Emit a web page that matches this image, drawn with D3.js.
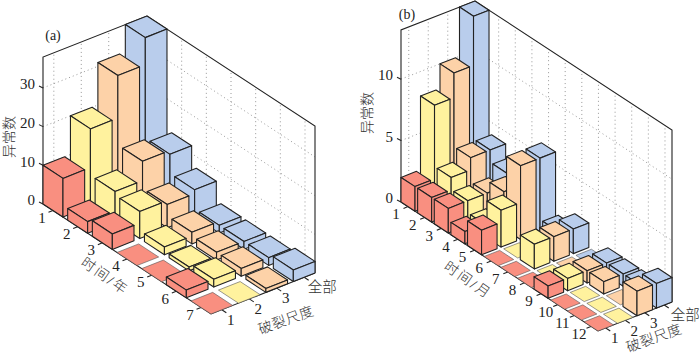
<!DOCTYPE html>
<html>
<head>
<meta charset="utf-8">
<script src="https://cdn.jsdelivr.net/npm/d3@7"></script>
<style>
  html, body { margin: 0; padding: 0; background: #fff; }
  svg { display: block; }
  text { font-family: "Liberation Serif", "Noto Sans CJK SC", serif; fill: #222; }
  .cjk { font-weight: 300; fill: #333; }
</style>
</head>
<body>
<div id="chart"></div>
<script>
// categories
const scaleNames = ["1", "2", "3", "全部"];
const yearsA = ["1", "2", "3", "4", "5", "6", "7"];
const monthsB = ["1", "2", "3", "4", "5", "6", "7", "8", "9", "10", "11", "12"];

// panel (a): anomaly counts per year, one array per rupture scale
const a1 = [10, 3, 4, 0, 0, 2, 0];
const a2 = [20, 8, 7, 2, 1, 2, 0];
const a3 = [31, 13, 6, 3, 2, 2, 1];
const aAll = [38, 12, 7, 2, 2, 2, 3];

// panel (b): anomaly counts per month
const b1 = [2, 2, 2, 1, 2, 0, 0, 0, 1, 0, 0, 0];
const b2 = [8, 3, 2, 1, 3, 0, 2, 0, 1, 0, 0, 0];
const b3 = [10, 4, 2, 3, 6, 0, 2, 0, 1, 1, 0, 2];
const bAll = [14, 4, 3, 2, 6, 1, 2, 0, 1, 1, 1, 2];

const colors = ["#f98f80", "#fff29e", "#fdd2a8", "#b9cdec"];

const svg = d3.select("#chart").append("svg").attr("width", 700).attr("height", 358);
const pathLine = d3.line();

// one oblique 3d panel
function drawPanel(p) {
  const g = svg.append("g");
  const uScale = d3.scaleBand().domain(p.times).range([0, 1]).paddingInner(p.padT);
  const vScale = d3.scaleBand().domain(scaleNames).range([0, 1]).paddingInner(p.padS);
  const zScale = d3.scaleLinear().domain([0, p.zMax]).range([0, p.height]);

  const project = (u, v, z) => [
    p.ox + u * p.tx + v * p.sx,
    p.oy + u * p.ty + v * p.sy - zScale(z)
  ];
  const uMid = (t) => uScale(t) + uScale.bandwidth() / 2;
  const vMid = (s) => vScale(s) + vScale.bandwidth() / 2;

  // walls
  const grid = g.append("g").attr("fill", "none").attr("stroke", "#8c8c8c")
    .attr("stroke-width", 0.9).attr("stroke-dasharray", "1 3");
  p.zTicks.forEach((z) => {
    if (z === 0) return;
    grid.append("path").attr("d", pathLine([project(0, 0, z), project(0, 1, z), project(1, 1, z)]));
  });
  scaleNames.forEach((s) => {
    grid.append("path").attr("d", pathLine([project(0, vMid(s), 0), project(0, vMid(s), p.zMax)]));
  });
  p.times.forEach((t) => {
    grid.append("path").attr("d", pathLine([project(uMid(t), 1, 0), project(uMid(t), 1, p.zMax)]));
  });

  const frame = g.append("g").attr("fill", "none").attr("stroke", "#222").attr("stroke-width", 1.1);
  frame.append("path").attr("d", pathLine([
    project(0, 0, 0), project(0, 0, p.zMax), project(0, 1, p.zMax), project(1, 1, p.zMax), project(1, 1, 0)
  ]));
  frame.append("path").attr("d", pathLine([project(0, 0, 0), project(1, 0, 0), project(1, 1, 0)]));

  // ticks and tick labels
  p.zTicks.forEach((z) => {
    const [x, y] = project(0, 0, z);
    frame.append("path").attr("d", pathLine([[x, y], [x - 4, y - 2]]));
    g.append("text").attr("x", x - 8).attr("y", y - 4).attr("dy", "0.35em")
      .attr("text-anchor", "end").attr("font-size", 15).text(z);
  });
  p.times.forEach((t) => {
    const [x, y] = project(uMid(t), 0, 0);
    frame.append("path").attr("d", pathLine([[x, y], [x - 4.5, y + 1.8]]));
    g.append("text").attr("x", x - p.timeDx).attr("y", y + 7).attr("dy", "0.35em")
      .attr("text-anchor", "middle").attr("font-size", 15).text(t);
  });
  scaleNames.forEach((s, i) => {
    const [x, y] = project(1, vMid(s), 0);
    frame.append("path").attr("d", pathLine([[x, y], [x + 4.5, y + 3]]));
    g.append("text").attr("x", x + (i === 3 ? p.allDx : 9)).attr("y", y + 10).attr("dy", "0.35em")
      .attr("class", i === 3 ? "cjk" : null)
      .attr("text-anchor", "middle").attr("font-size", i === 3 ? 14.5 : 15).text(s);
  });

  // bars, back to front
  const w = uScale.bandwidth();
  const d = vScale.bandwidth();
  p.times.forEach((t, i) => {
    for (let j = scaleNames.length - 1; j >= 0; j--) {
      const u0 = uScale(t), v0 = vScale(scaleNames[j]);
      const val = p.values[j][i];
      const bar = g.append("g").attr("fill", colors[j]);
      if (val === 0) {
        bar.append("path").attr("stroke", "#555").attr("stroke-width", 0.6).attr("d", pathLine([
          project(u0, v0, 0), project(u0, v0 + d, 0), project(u0 + w, v0 + d, 0), project(u0 + w, v0, 0)
        ]) + "Z");
        continue;
      }
      bar.attr("stroke", "#222").attr("stroke-width", 1.1).attr("stroke-linejoin", "round");
      // top
      bar.append("path").attr("d", pathLine([
        project(u0, v0, val), project(u0, v0 + d, val), project(u0 + w, v0 + d, val), project(u0 + w, v0, val)
      ]) + "Z");
      // left face
      bar.append("path").attr("d", pathLine([
        project(u0, v0, val), project(u0 + w, v0, val), project(u0 + w, v0, 0), project(u0, v0, 0)
      ]) + "Z");
      // right face
      bar.append("path").attr("d", pathLine([
        project(u0 + w, v0, val), project(u0 + w, v0 + d, val), project(u0 + w, v0 + d, 0), project(u0 + w, v0, 0)
      ]) + "Z");
    }
  });

  // titles
  const title = (txt, pos, rot, spacing) => g.append("text")
    .attr("class", "cjk")
    .attr("transform", `translate(${pos[0]},${pos[1]}) rotate(${rot})`)
    .attr("text-anchor", "middle").attr("dy", "0.35em").attr("font-size", 14)
    .attr("letter-spacing", spacing).text(txt);
  g.append("text").attr("x", p.panelPos[0]).attr("y", p.panelPos[1]).attr("dy", "0.35em")
    .attr("text-anchor", "middle").attr("font-size", 14).text(p.panel);
  title("异常数", p.zTitle, -90, 0);
  title(p.timeName, p.timeTitle, 35, 2);
  title("破裂尺度", p.scaleTitle, -20, 0.5);
}

drawPanel({
  times: yearsA, values: [a1, a2, a3, aAll], zTicks: [0, 10, 20, 30], zMax: 38,
  ox: 43, oy: 204, tx: 168, ty: 110, sx: 104, sy: -41, height: 147, padT: 0.19, padS: 0.21,
  timeDx: 11, allDx: 18,
  panel: "(a)", panelPos: [53, 35], zTitle: [9, 137],
  timeName: "时间/年", timeTitle: [105, 276], scaleTitle: [286, 320]
});

drawPanel({
  times: monthsB, values: [b1, b2, b3, bAll], zTicks: [0, 5, 10], zMax: 14,
  ox: 401, oy: 202, tx: 197, ty: 129, sx: 74, sy: -29, height: 172, padT: 0.157, padS: 0.205,
  timeDx: 12, allDx: 21,
  panel: "(b)", panelPos: [407, 14], zTitle: [367, 113],
  timeName: "时间/月", timeTitle: [468, 280], scaleTitle: [654, 338]
});
</script>
</body>
</html>
